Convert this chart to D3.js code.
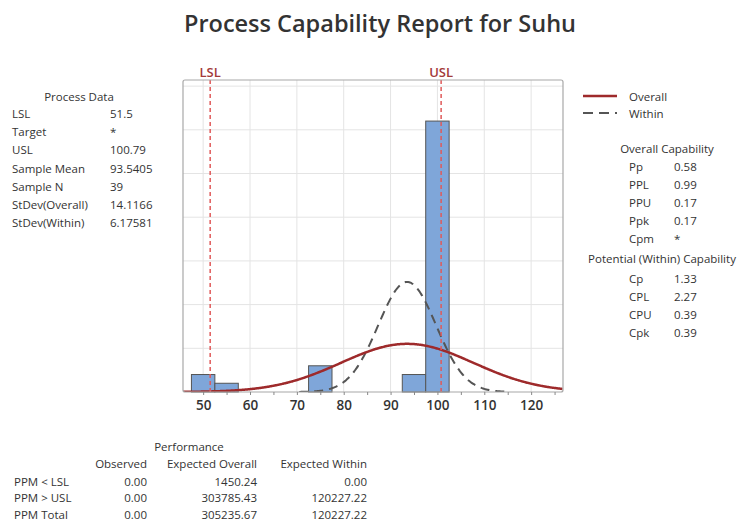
<!DOCTYPE html>
<html>
<head>
<meta charset="utf-8">
<script src="https://cdn.jsdelivr.net/npm/d3@7"></script>
<style>
  body { margin: 0; background: #fff; }
  text { font-family: "Open Sans", "Noto Sans", sans-serif; }
</style>
</head>
<body>
<div id="chart"></div>
<script>
// histogram bins (lower edge) and counts
const binStarts = [47.5, 52.5, 57.5, 62.5, 67.5, 72.5, 77.5, 82.5, 87.5, 92.5, 97.5];
const binCounts = [2, 1, 0, 0, 0, 3, 0, 0, 0, 2, 31];
const binWidth = 5;

const lsl = 51.5, usl = 100.79;
const mean = 93.5405, sampleN = 39;
const sdOverall = 14.1166, sdWithin = 6.17581;

const processLabels = ["LSL", "Target", "USL", "Sample Mean", "Sample N", "StDev(Overall)", "StDev(Within)"];
const processValues = ["51.5", "*", "100.79", "93.5405", "39", "14.1166", "6.17581"];

const overallLabels = ["Pp", "PPL", "PPU", "Ppk", "Cpm"];
const overallValues = ["0.58", "0.99", "0.17", "0.17", "*"];
const withinLabels = ["Cp", "CPL", "CPU", "Cpk"];
const withinValues = ["1.33", "2.27", "0.39", "0.39"];

const perfHeaders = ["Observed", "Expected Overall", "Expected Within"];
const perfRows = ["PPM < LSL", "PPM > USL", "PPM Total"];
const perfObserved = ["0.00", "0.00", "0.00"];
const perfOverall = ["1450.24", "303785.43", "305235.67"];
const perfWithin = ["0.00", "120227.22", "120227.22"];

const xTicks = [50, 60, 70, 80, 90, 100, 110, 120];

const width = 745, height = 521;
const plot = { left: 183, top: 80, right: 563, bottom: 392 };

const svg = d3.select("#chart").append("svg")
  .attr("width", width)
  .attr("height", height);

const x = d3.scaleLinear().domain([45.7, 126.8]).range([plot.left, plot.right]);
const y = d3.scaleLinear().domain([0, 35.7]).range([plot.bottom, plot.top]);

// title
svg.append("text")
  .attr("x", 380).attr("y", 32)
  .attr("text-anchor", "middle")
  .attr("fill", "#333")
  .style("font-size", "23.5px")
  .style("font-weight", 600)
  .text("Process Capability Report for Suhu");

// grid
const grid = svg.append("g");
grid.selectAll("line.v")
  .data(xTicks)
  .join("line")
  .attr("x1", d => x(d)).attr("x2", d => x(d))
  .attr("y1", plot.top).attr("y2", plot.bottom)
  .attr("stroke", "#e4e4e4");
grid.selectAll("line.h")
  .data([5, 10, 15, 20, 25, 30, 35])
  .join("line")
  .attr("x1", plot.left).attr("x2", plot.right)
  .attr("y1", d => y(d)).attr("y2", d => y(d))
  .attr("stroke", "#e4e4e4");

// clip
svg.append("clipPath").attr("id", "clip")
  .append("rect")
  .attr("x", plot.left).attr("y", plot.top)
  .attr("width", plot.right - plot.left).attr("height", plot.bottom - plot.top);

// bars
svg.append("g")
  .selectAll("rect")
  .data(binStarts.map((s, i) => ({ s, c: binCounts[i] })).filter(d => d.c > 0))
  .join("rect")
  .attr("x", d => x(d.s))
  .attr("y", d => y(d.c))
  .attr("width", d => x(d.s + binWidth) - x(d.s))
  .attr("height", d => y(0) - y(d.c))
  .attr("fill", "#7fa6d9")
  .attr("stroke", "#555")
  .attr("stroke-width", 1);

// fitted normal curves, scaled to counts per bin
function normalCurve(sd, lo, hi) {
  const pts = d3.range(lo, hi + 0.01, 0.25);
  return pts.map(v => [v, sampleN * binWidth * Math.exp(-0.5 * ((v - mean) / sd) ** 2) / (sd * Math.sqrt(2 * Math.PI))]);
}
const line = d3.line().x(d => x(d[0])).y(d => y(d[1])).curve(d3.curveBasis);

const curves = svg.append("g").attr("clip-path", "url(#clip)");
curves.append("path")
  .attr("d", line(normalCurve(sdWithin, 70.5, 115.5)))
  .attr("fill", "none")
  .attr("stroke", "#555")
  .attr("stroke-width", 2)
  .attr("stroke-dasharray", "9,6");
curves.append("path")
  .attr("d", line(normalCurve(sdOverall, 45.7, 126.8)))
  .attr("fill", "none")
  .attr("stroke", "#9e2a2b")
  .attr("stroke-width", 2.5);

// spec limits
[[lsl, "LSL"], [usl, "USL"]].forEach(([v, name]) => {
  svg.append("line")
    .attr("x1", x(v)).attr("x2", x(v))
    .attr("y1", plot.top).attr("y2", plot.bottom)
    .attr("stroke", "#e05a5a")
    .attr("stroke-width", 1.5)
    .attr("stroke-dasharray", "4,3");
  svg.append("text")
    .attr("x", x(v)).attr("y", 77)
    .attr("text-anchor", "middle")
    .attr("fill", "#a33a3a")
    .style("font-size", "13px")
    .style("font-weight", 600)
    .text(name);
});

// frame
svg.append("rect")
  .attr("x", plot.left).attr("y", plot.top)
  .attr("width", plot.right - plot.left).attr("height", plot.bottom - plot.top)
  .attr("rx", 2)
  .attr("fill", "none")
  .attr("stroke", "#a8a8a8")
  .attr("stroke-width", 1.2);

// x axis
const xAxis = svg.append("g")
  .attr("transform", `translate(0,${plot.bottom})`)
  .call(d3.axisBottom(x).tickValues(d3.range(50, 126, 5)).tickSize(3).tickSizeOuter(0)
    .tickFormat(d => d % 10 === 0 ? d : ""));
xAxis.select(".domain").remove();
xAxis.selectAll(".tick line").attr("stroke", "#888");
xAxis.selectAll(".tick text")
  .attr("fill", "#333")
  .attr("dy", "0.9em")
  .style("font-size", "13.5px")
  .style("font-weight", 600)
  .style("font-family", "'Open Sans', sans-serif");

const txt = (sel, xp, yp, s, anchor) => sel.append("text")
  .attr("x", xp).attr("y", yp)
  .attr("text-anchor", anchor || "start")
  .attr("dy", "0.35em")
  .attr("fill", "#333")
  .style("font-size", "11.5px")
  .text(s);

// process data table
const left = svg.append("g");
txt(left, 79, 97, "Process Data", "middle");
processLabels.forEach((s, i) => {
  txt(left, 12, 114 + i * 18.2, s);
  txt(left, 110, 114 + i * 18.2, processValues[i]);
});

// legend
const right = svg.append("g");
right.append("line").attr("x1", 583).attr("x2", 617).attr("y1", 96).attr("y2", 96)
  .attr("stroke", "#9e2a2b").attr("stroke-width", 2.5);
right.append("line").attr("x1", 583).attr("x2", 617).attr("y1", 113).attr("y2", 113)
  .attr("stroke", "#555").attr("stroke-width", 2).attr("stroke-dasharray", "10,6");
txt(right, 629, 97, "Overall");
txt(right, 629, 114, "Within");

// capability tables
txt(right, 667, 149, "Overall Capability", "middle");
overallLabels.forEach((s, i) => {
  txt(right, 629, 167 + i * 18, s);
  txt(right, 674, 167 + i * 18, overallValues[i]);
});
txt(right, 662, 259, "Potential (Within) Capability", "middle");
withinLabels.forEach((s, i) => {
  txt(right, 629, 279 + i * 18, s);
  txt(right, 674, 279 + i * 18, withinValues[i]);
});

// performance table
const bottom = svg.append("g");
txt(bottom, 189, 447, "Performance", "middle");
const colX = [147, 257, 367];
perfHeaders.forEach((s, i) => txt(bottom, colX[i], 464, s, "end"));
perfRows.forEach((s, i) => {
  const yy = 481.5 + i * 16.8;
  txt(bottom, 14, yy, s);
  txt(bottom, colX[0], yy, perfObserved[i], "end");
  txt(bottom, colX[1], yy, perfOverall[i], "end");
  txt(bottom, colX[2], yy, perfWithin[i], "end");
});
</script>
</body>
</html>
